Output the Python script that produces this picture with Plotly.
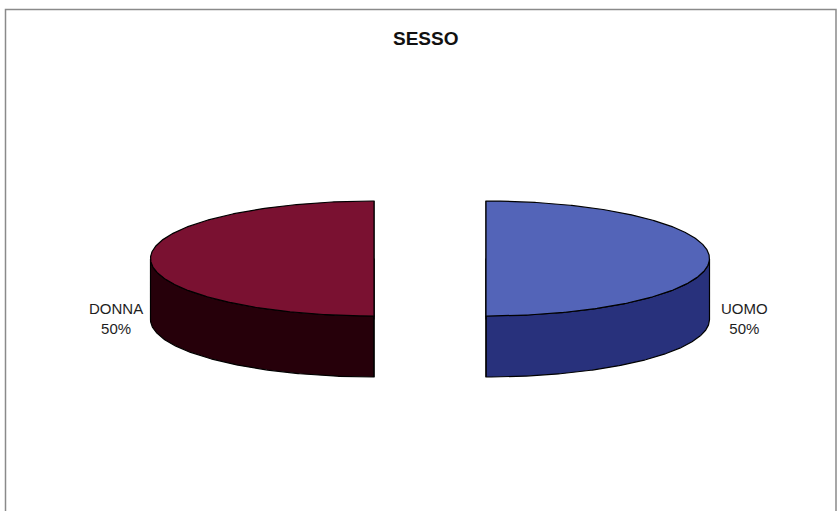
import numpy as np
import plotly.graph_objects as go

# Gender split
labels = ["DONNA", "UOMO"]
values = [50, 50]
top_colors = ["#7a1131", "#5364b8"]
side_colors = ["#26000a", "#28317c"]

# 3D pie geometry (pixel space)
CX, CY = 430, 258.5      # centre of the top face
RX, RY = 223.5, 57.5     # ellipse semi-axes of the top face
DEPTH = 61               # thickness of the pie
EXPLODE = 56             # offset of each slice along its bisector
START = 90.0             # first slice starts at the back

W, H = 839, 511

fig = go.Figure()


def pt(cx, cy, ang_deg, dy=0.0):
    a = np.radians(ang_deg)
    return cx + RX * np.cos(a), cy - RY * np.sin(a) + dy


total = float(sum(values))
angle = START
slices = []
for lab, val, tc, sc in zip(labels, values, top_colors, side_colors):
    span = 360.0 * val / total
    a0, a1 = angle, angle + span
    mid = np.radians((a0 + a1) / 2)
    cx = CX + EXPLODE * np.cos(mid)
    cy = CY - EXPLODE * (RY / RX) * np.sin(mid)
    slices.append((lab, val, tc, sc, a0, a1, cx, cy, mid))
    angle = a1

# side walls (front half of each arc only)
for lab, val, tc, sc, a0, a1, cx, cy, mid in slices:
    ts = np.linspace(a0, a1, 400)
    vis = ((ts % 360) >= 180) & ((ts % 360) <= 360)
    ts = ts[vis]
    if len(ts) < 2:
        continue
    xt, yt = pt(cx, cy, ts)
    xb, yb = pt(cx, cy, ts[::-1], DEPTH)
    xs = np.concatenate([xt, xb, xt[:1]])
    ys = np.concatenate([yt, yb, yt[:1]])
    fig.add_trace(go.Scatter(x=xs, y=ys, mode="lines", fill="toself",
                             fillcolor=sc, line=dict(color="#000000", width=1.2),
                             hoverinfo="skip", showlegend=False))

# radial cut faces and top faces
for lab, val, tc, sc, a0, a1, cx, cy, mid in slices:
    for edge in (a0, a1):
        ex, ey = pt(cx, cy, edge)
        fig.add_trace(go.Scatter(x=[cx, ex, ex, cx, cx],
                                 y=[cy, ey, ey + DEPTH, cy + DEPTH, cy],
                                 mode="lines", fill="toself", fillcolor=sc,
                                 line=dict(color="#000000", width=1.2),
                                 hoverinfo="skip", showlegend=False))
    ts = np.linspace(a0, a1, 400)
    xt, yt = pt(cx, cy, ts)
    xs = np.concatenate([[cx], xt, [cx]])
    ys = np.concatenate([[cy], yt, [cy]])
    fig.add_trace(go.Scatter(x=xs, y=ys, mode="lines", fill="toself",
                             fillcolor=tc, line=dict(color="#000000", width=1.2),
                             hoverinfo="skip", showlegend=False, name=lab))

# category labels with percentages
annotations = []
for lab, val, tc, sc, a0, a1, cx, cy, mid in slices:
    ex = cx + (RX + 34.5) * np.cos(mid)
    annotations.append(dict(
        x=ex, y=cy + DEPTH - 1.5, xref="x", yref="y",
        text=f"{lab}<br>{val / total:.0%}", showarrow=False,
        font=dict(family="Arial, Liberation Sans, sans-serif", size=15, color="#1e1e1e"),
        align="center", xanchor="center", yanchor="middle"))

annotations.append(dict(
    x=425, y=38, xref="x", yref="y", text="<b>SESSO</b>", showarrow=False,
    font=dict(family="Arial, Liberation Sans, sans-serif", size=19, color="#111111"),
    xanchor="center", yanchor="middle"))

fig.update_layout(
    width=W, height=H,
    margin=dict(l=0, r=0, t=0, b=0),
    paper_bgcolor="#ffffff", plot_bgcolor="#ffffff",
    xaxis=dict(range=[0, W], visible=False, fixedrange=True),
    yaxis=dict(range=[H, 0], visible=False, fixedrange=True),
    annotations=annotations,
    shapes=[dict(type="rect", xref="x", yref="y", x0=5.5, y0=9.5, x1=836, y1=530,
                 line=dict(color="#8a8a8a", width=1.5), layer="below")],
)

fig.write_html("out.html")
